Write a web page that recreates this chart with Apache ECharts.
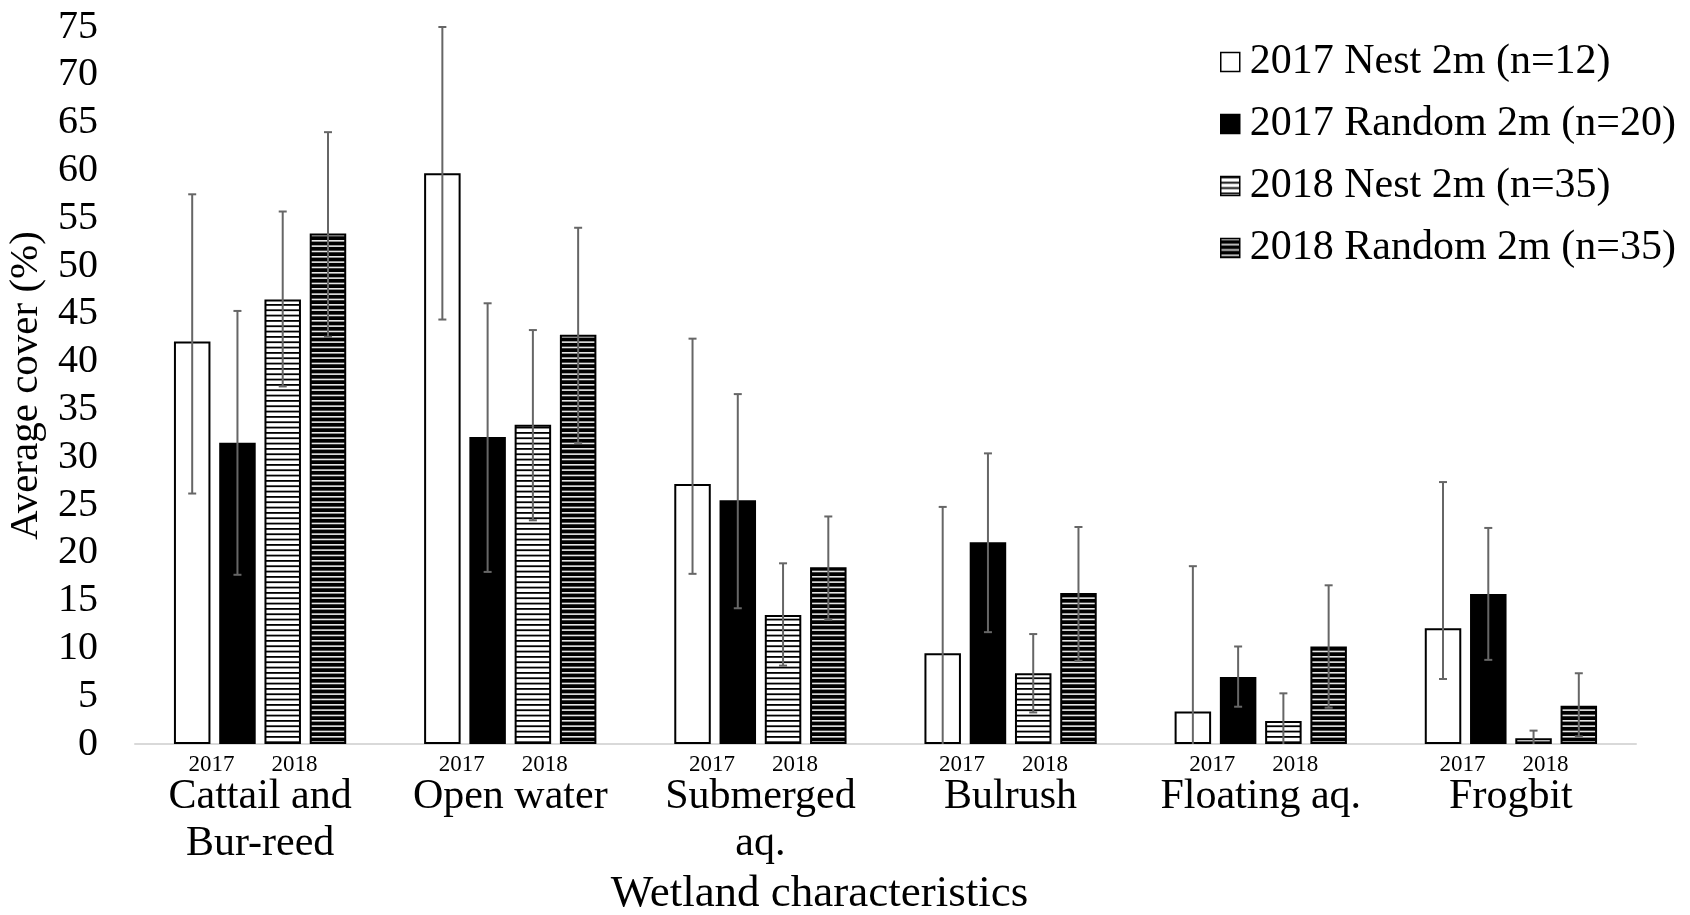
<!DOCTYPE html>
<html>
<head>
<meta charset="utf-8">
<script src="https://cdn.jsdelivr.net/npm/echarts@6/dist/echarts.min.js"></script>
<style>
  html, body { margin: 0; padding: 0; background: #fff; }
  #chart { width: 1690px; height: 915px; }
</style>
</head>
<body>
<div id="chart"></div>
<script>
// Wetland cover categories and the two survey-year tick labels under each group
const categories = ['Cattail and\nBur-reed', 'Open water', 'Submerged\naq.', 'Bulrush', 'Floating aq.', 'Frogbit'];
const yearLabels = ['2017', '2018'];
const seriesNames = ['2017 Nest 2m (n=12)', '2017 Random 2m (n=20)', '2018 Nest 2m (n=35)', '2018 Random 2m (n=35)'];

// Average cover (%) per category
const nest2017 = [42.1, 59.7, 27.2, 9.5, 3.4, 12.1];
const random2017 = [31.5, 32.1, 25.5, 21.1, 7.0, 15.7];
const nest2018 = [46.5, 33.4, 13.5, 7.4, 2.4, 0.6];
const random2018 = [53.4, 42.8, 18.5, 15.8, 10.2, 4.0];

// Error bar ends (lower / upper), in % cover
const nest2017Lo = [26.2, 44.4, 17.8, 0, 0, 6.8];
const nest2017Hi = [57.5, 75.0, 42.4, 24.8, 18.6, 27.4];
const random2017Lo = [17.7, 18.0, 14.2, 11.7, 3.9, 8.8];
const random2017Hi = [45.3, 46.1, 36.6, 30.4, 10.2, 22.6];
const nest2018Lo = [37.4, 23.4, 8.2, 3.3, 0, 0];
const nest2018Hi = [55.7, 43.3, 18.9, 11.5, 5.3, 1.4];
const random2018Lo = [42.6, 31.5, 13.0, 8.7, 3.8, 0.8];
const random2018Hi = [64.0, 54.0, 23.8, 22.7, 16.6, 7.4];

const FONT = '"Liberation Serif", "Times New Roman", serif';
const BAR_W = 36.5;
const BAR_GAP = 0.24; // fraction of bar width

// Horizontal-stripe fills
function stripes(bg, line, period, thick) {
  const c = document.createElement('canvas');
  c.width = 8; c.height = Math.round(period * 3);
  const g = c.getContext('2d');
  g.fillStyle = bg; g.fillRect(0, 0, c.width, c.height);
  g.fillStyle = line;
  for (let i = 0; i < 3; i++) g.fillRect(0, i * c.height / 3, c.width, thick);
  return { image: c, repeat: 'repeat' };
}
const stripeLight = stripes('#ffffff', '#000000', 5.33, 1.8);
const stripeDark = stripes('#000000', '#e6e6e6', 5.33, 1.6);

const values = [nest2017, random2017, nest2018, random2018];
const lows = [nest2017Lo, random2017Lo, nest2018Lo, random2018Lo];
const highs = [nest2017Hi, random2017Hi, nest2018Hi, random2018Hi];
const fills = ['#ffffff', '#000000', stripeLight, stripeDark];

const barSeries = values.map((v, k) => ({
  name: seriesNames[k],
  type: 'bar',
  data: v,
  barWidth: BAR_W,
  barGap: (BAR_GAP * 100) + '%',
  itemStyle: { color: fills[k], borderColor: '#000', borderWidth: 2 },
  emphasis: { disabled: true },
  z: 2
}));

const errorSeries = values.map((v, k) => ({
  name: seriesNames[k] + ' err',
  type: 'custom',
  silent: true,
  z: 5,
  data: v.map((_, i) => [i, lows[k][i], highs[k][i]]),
  renderItem: function (params, api) {
    const i = api.value(0);
    const lo = api.value(1), hi = api.value(2);
    const off = (k - 1.5) * BAR_W * (1 + BAR_GAP);
    const top = api.coord([i, hi]);
    const bot = api.coord([i, lo]);
    const x = top[0] + off;
    const cap = 4;
    const style = { stroke: '#666', lineWidth: 2 };
    const children = [
      { type: 'line', shape: { x1: x, y1: top[1], x2: x, y2: bot[1] }, style },
      { type: 'line', shape: { x1: x - cap, y1: top[1], x2: x + cap, y2: top[1] }, style }
    ];
    if (lo > 0) children.push({ type: 'line', shape: { x1: x - cap, y1: bot[1], x2: x + cap, y2: bot[1] }, style });
    return { type: 'group', children };
  }
}));

const chart = echarts.init(document.getElementById('chart'));
chart.setOption({
  backgroundColor: '#fff',
  animation: false,
  textStyle: { fontFamily: FONT, color: '#000' },
  grid: { left: 135, right: 54, top: 27, bottom: 171, outerBoundsMode: 'none', containLabel: false },
  legend: {
    data: seriesNames,
    orient: 'vertical',
    left: 1215,
    top: 36,
    itemWidth: 19,
    itemHeight: 19,
    itemGap: 20,
    icon: 'rect',
    itemStyle: { borderColor: '#000', borderWidth: 1.5 },
    textStyle: { fontFamily: FONT, fontSize: 42, color: '#000', lineHeight: 42, padding: [0, 0, 0, 5] },
    selectedMode: false
  },
  xAxis: {
    type: 'category',
    data: categories,
    name: 'Wetland characteristics',
    nameLocation: 'middle',
    nameGap: 128,
    nameTextStyle: { fontFamily: FONT, fontSize: 45, color: '#000', padding: [0, 132, 0, 0] },
    axisLine: { lineStyle: { color: '#d9d9d9', width: 2 } },
    axisTick: { show: false },
    axisLabel: {
      interval: 0,
      margin: 13,
      formatter: function (v) {
        const lines = v.split('\n').map(s => '{cat|' + s + '}').join('\n');
        return '{yr|' + yearLabels[0] + '}{gap|}{yr|' + yearLabels[1] + '}{pad|}\n' + lines;
      },
      rich: {
        yr: { fontFamily: FONT, fontSize: 23, color: '#000', lineHeight: 16 },
        gap: { width: 37 },
        pad: { width: 14 },
        cat: { fontFamily: FONT, fontSize: 42, color: '#000', lineHeight: 47 }
      }
    }
  },
  yAxis: {
    type: 'value',
    min: 0,
    max: 75,
    interval: 5,
    name: 'Average cover (%)',
    nameLocation: 'middle',
    nameGap: 81,
    nameTextStyle: { fontFamily: FONT, fontSize: 41, color: '#000' },
    axisLine: { show: false },
    axisTick: { show: false },
    splitLine: { show: false },
    axisLabel: { fontFamily: FONT, fontSize: 40, color: '#000', margin: 37 }
  },
  series: barSeries.concat(errorSeries)
});
</script>
</body>
</html>
